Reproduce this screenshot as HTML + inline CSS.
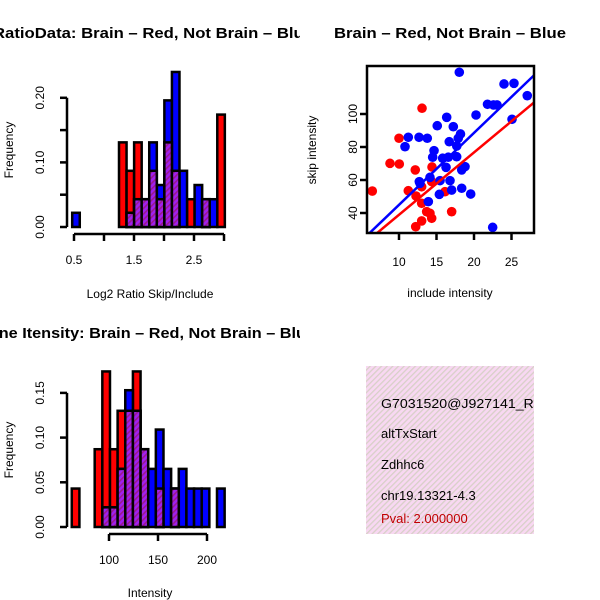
<!DOCTYPE html>
<html><head><meta charset="utf-8"><style>
body{margin:0;background:#fff}
svg{display:block;font-family:"Liberation Sans",sans-serif}
</style></head><body>
<svg id="c" width="600" height="600" viewBox="0 0 600 600">
<defs>
<pattern id="hatch" width="4" height="4" patternUnits="userSpaceOnUse" patternTransform="rotate(45)">
<rect width="4" height="4" fill="#a020f0"/><rect width="1.6" height="4" fill="#9a1a90"/>
</pattern>
<pattern id="pinkhatch" width="4" height="4" patternUnits="userSpaceOnUse" patternTransform="rotate(45)">
<rect width="4" height="4" fill="#f8d8f2"/><rect width="1.3" height="4" fill="#d8d0c8"/>
</pattern>
<clipPath id="clipL"><rect x="0" y="0" width="300" height="600"/></clipPath>
<clipPath id="clipSc"><rect x="367" y="66" width="167" height="167"/></clipPath>
<clipPath id="clipBox"><rect x="366" y="366" width="168" height="168"/></clipPath>
</defs>
<g id="p1" clip-path="url(#clipL)"></g>
<g id="p2"></g>
<g id="p3" clip-path="url(#clipL)"></g>
<g id="p4">
<rect x="366" y="366" width="168" height="168" fill="url(#pinkhatch)"/>
<g clip-path="url(#clipBox)" font-size="13">
<text x="381" y="408" textLength="163" lengthAdjust="spacingAndGlyphs">G7031520@J927141_RC</text>
<text x="381" y="438">altTxStart</text>
<text x="381" y="469">Zdhhc6</text>
<text x="381" y="500">chr19.13321-4.3</text>
<text x="381" y="523" fill="#c00000">Pval: 2.000000</text>
</g>
</g>
</svg>
<script>
// Panel 1 data: log2 ratio histogram
const ratioBinStart = [0.47,0.6,0.72,0.85,0.97,1.1,1.25,1.376,1.502,1.628,1.754,1.88,2.006,2.132,2.258,2.384,2.51,2.636,2.762,2.888];
const ratioRed  = [0,0,0,0,0,0,0.131,0.087,0.131,0.043,0.087,0.043,0.131,0.087,0,0.043,0,0.043,0,0.174];
const ratioBlue = [0.022,0,0,0,0,0,0,0.022,0.043,0.043,0.131,0.065,0.196,0.24,0.087,0,0.065,0.043,0.043,0];
const ratioXTicks = [0.5,1.0,1.5,2.0,2.5,3.0];
const ratioXLabels = ["0.5","","1.5","","2.5",""];
const ratioYTicks = [0,0.05,0.1,0.15,0.2];
const ratioYLabels = ["0.00","","0.10","","0.20"];
// Panel 3 data: intensity histogram
const intBinStart = [62,69.8,77.6,85.4,93.2,101,108.8,116.6,124.4,132.2,140,147.8,155.6,163.4,171.2,179,186.8,194.6,202.4,210.2];
const intRed  = [0.043,0,0,0.087,0.174,0.087,0.13,0.13,0.174,0.087,0,0.043,0,0.043,0,0,0,0,0,0];
const intBlue = [0,0,0,0,0.022,0.022,0.065,0.153,0.13,0.087,0.065,0.109,0.065,0.043,0.065,0.043,0.043,0.043,0,0.043];
const intXTicks = [100,150,200];
const intYTicks = [0,0.05,0.1,0.15];
const intYLabels = ["0.00","0.05","0.10","0.15"];
// Panel 2 data: scatter
const blueX = [18.04,24.0,25.33,27.1,21.8,23.07,22.6,20.27,25.07,16.36,15.1,17.24,18.2,11.24,12.67,13.77,17.9,16.7,10.8,17.7,14.67,14.49,15.82,16.57,17.69,16.27,18.8,18.36,14.13,15.47,16.8,12.8,17.02,18.36,15.38,19.56,13.91,22.49,12.71];
const blueY = [125.3,118.2,118.6,111.1,105.9,105.5,105.5,99.4,96.8,98,92.9,92.3,87.9,85.9,85.9,85.3,85.3,83.2,80.2,80.6,77.8,73.8,73.2,73.8,74.1,67.7,68.1,66.1,61.6,59.6,59.6,58,53.9,55,51.3,51.5,46.9,31.3,59];
const redX = [6.44,13.07,10.0,8.8,10.04,12.17,14.4,11.24,13.02,12.27,13.02,13.69,14.13,14.36,17.02,13.02,12.23,16.13,14.36];
const redY = [53.3,103.5,85.3,70.1,69.7,66.1,67.9,53.5,55.9,50.3,45.9,40.8,39.8,36.8,40.8,35.2,31.7,52.9,59];
const blueFit = [1.36,4.36];
const redFit = [1.1,3.78];
const scXTicks = [10,15,20,25];
const scYTicks = [40,60,80,100];

const NS="http://www.w3.org/2000/svg";
function mk(tag,attrs,parent,txt){const e=document.createElementNS(NS,tag);for(const k in attrs)e.setAttribute(k,attrs[k]);if(txt!==undefined)e.textContent=txt;parent.appendChild(e);return e;}

function histogram(g,o){
  const sx=v=>o.x0+(v-o.v0)*o.kx, sy=v=>o.y0-v*o.ky;
  const w=o.bw*o.kx;
  for(let i=0;i<o.starts.length;i++){
    const x=sx(o.starts[i]);
    if(o.red[i]>0){const r=mk('rect',{x:x,y:sy(o.red[i]),width:w,height:o.red[i]*o.ky,fill:'#ff0000',stroke:'#000','stroke-width':2.5},g);
      
      }
  }
  for(let i=0;i<o.starts.length;i++){
    const x=sx(o.starts[i]);
    if(o.blue[i]>0){const r=mk('rect',{x:x,y:sy(o.blue[i]),width:w,height:o.blue[i]*o.ky,fill:'#0000ff',stroke:'#000','stroke-width':2.5},g);
      
      }
  }
  for(let i=0;i<o.starts.length;i++){
    const x=sx(o.starts[i]);const m=Math.min(o.red[i],o.blue[i]);
    if(m>0){const r=mk('rect',{x:x,y:sy(m),width:w,height:m*o.ky,fill:'url(#hatch)',stroke:'#000','stroke-width':2.5},g);
      
      }
  }
  const ya=mk('g',{},g);
  
  
  mk('line',{x1:o.yax,x2:o.yax,y1:sy(o.yt[0]),y2:sy(o.yt[o.yt.length-1]),stroke:'#000','stroke-width':2.5},ya);
  o.yt.forEach((t,i)=>{mk('line',{x1:o.yax,x2:o.yax-7,y1:sy(t),y2:sy(t),stroke:'#000','stroke-width':2.5},ya);
    if(o.yl[i]){const tx=mk('text',{x:44,y:sy(t),'font-size':12,'text-anchor':'middle',transform:`rotate(-90 44 ${sy(t)})`},ya,o.yl[i]);
      
      }});
  const xa=mk('g',{},g);
  
  
  mk('line',{x1:sx(o.xt[0]),x2:sx(o.xt[o.xt.length-1]),y1:o.xay,y2:o.xay,stroke:'#000','stroke-width':2.5},xa);
  o.xt.forEach((t,i)=>{mk('line',{x1:sx(t),x2:sx(t),y1:o.xay,y2:o.xay+7,stroke:'#000','stroke-width':2.5},xa);
    if(o.xl[i]){const tx=mk('text',{x:sx(t),y:o.xay+30,'font-size':12,'text-anchor':'middle'},xa,o.xl[i]);
      
      }});
}

const p1=document.getElementById('p1');
histogram(p1,{starts:ratioBinStart,red:ratioRed,blue:ratioBlue,bw:0.126,x0:74,v0:0.5,kx:60,y0:227,ky:646,yax:67,xay:234,xt:ratioXTicks,xl:ratioXLabels,yt:ratioYTicks,yl:ratioYLabels});
let t=mk('text',{x:-7,y:38,'font-size':14.5,'font-weight':'bold',textLength:320,lengthAdjust:'spacingAndGlyphs'},p1,'RatioData: Brain – Red, Not Brain – Blue');


t=mk('text',{x:150,y:298,'font-size':12,'text-anchor':'middle'},p1,'Log2 Ratio Skip/Include');


t=mk('text',{x:13,y:150,'font-size':12,'text-anchor':'middle',transform:'rotate(-90 13 150)'},p1,'Frequency');



const p3=document.getElementById('p3');
histogram(p3,{starts:intBinStart,red:intRed,blue:intBlue,bw:7.8,x0:109,v0:100,kx:0.98,y0:527,ky:894,yax:67,xay:534,xt:intXTicks,xl:intXTicks.map(String),yt:intYTicks,yl:intYLabels});
t=mk('text',{x:-23,y:338,'font-size':14.5,'font-weight':'bold',textLength:338,lengthAdjust:'spacingAndGlyphs'},p3,'Gene Itensity: Brain – Red, Not Brain – Blue');


t=mk('text',{x:150,y:597,'font-size':12,'text-anchor':'middle'},p3,'Intensity');


t=mk('text',{x:13,y:450,'font-size':12,'text-anchor':'middle',transform:'rotate(-90 13 450)'},p3,'Frequency');



// scatter
const p2=document.getElementById('p2');
const sx=v=>399+(v-10)*7.5, sy=v=>213-(v-40)*1.65;
const pts=mk('g',{'clip-path':'url(#clipSc)'},p2);


redX.forEach((x,i)=>{const c=mk('circle',{cx:sx(x),cy:sy(redY[i]),r:4.8,fill:'#ff0000'},pts);
  
  });
blueX.forEach((x,i)=>{const c=mk('circle',{cx:sx(x),cy:sy(blueY[i]),r:4.8,fill:'#0000ff'},pts);
  
  });
[[blueFit,'#0000ff','blue-fit-line'],[redFit,'#ff0000','red-fit-line']].forEach(([f,col,nm])=>{
  const l=mk('line',{x1:sx(4),y1:sy(f[0]+f[1]*4),x2:sx(30),y2:sy(f[0]+f[1]*30),stroke:col,'stroke-width':2.5},pts);
  
  });
mk('rect',{x:367,y:66,width:167,height:167,fill:'none',stroke:'#000','stroke-width':2.5},p2);
scXTicks.forEach(v=>{mk('line',{x1:sx(v),x2:sx(v),y1:233,y2:240,stroke:'#000','stroke-width':2.5},p2);
  const tx=mk('text',{x:sx(v),y:266,'font-size':12,'text-anchor':'middle'},p2,String(v));
  
  });
scYTicks.forEach(v=>{mk('line',{x1:367,x2:360,y1:sy(v),y2:sy(v),stroke:'#000','stroke-width':2.5},p2);
  const tx=mk('text',{x:357,y:sy(v),'font-size':12,'text-anchor':'middle',transform:`rotate(-90 357 ${sy(v)})`},p2,String(v));
  
  });
t=mk('text',{x:450,y:38,'font-size':14.5,'font-weight':'bold','text-anchor':'middle',textLength:232,lengthAdjust:'spacingAndGlyphs'},p2,'Brain – Red, Not Brain – Blue');


t=mk('text',{x:450,y:297,'font-size':12,'text-anchor':'middle'},p2,'include intensity');


t=mk('text',{x:316,y:150,'font-size':12,'text-anchor':'middle',transform:'rotate(-90 316 150)'},p2,'skip intensity');


</script>
</body></html>
